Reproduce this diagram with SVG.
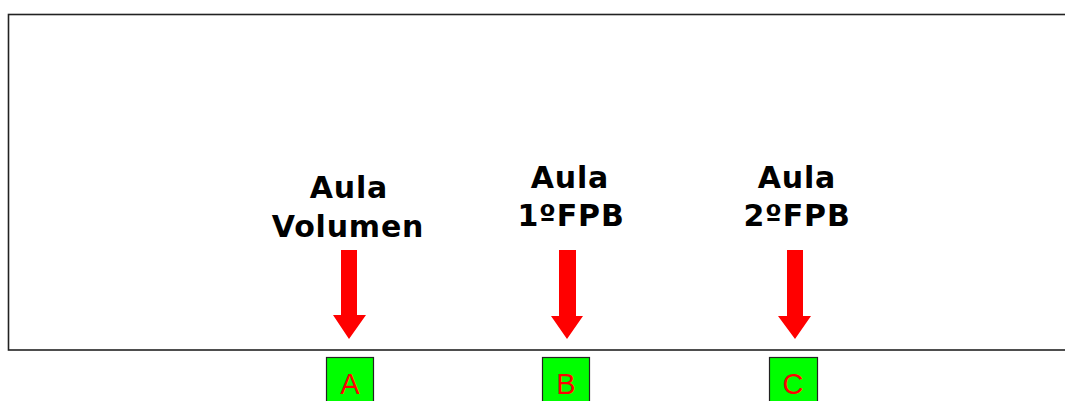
<svg xmlns="http://www.w3.org/2000/svg" width="1065" height="401" viewBox="0 0 1065 401">
<style>
.lbl{font-family:"DejaVu Sans",Verdana,sans-serif;font-weight:bold;font-size:30px;letter-spacing:0.8px;fill:#000;text-anchor:middle}
.box{fill:#00ff00;stroke:#222;stroke-width:1.2}
.let{font-family:"Liberation Sans",Arial,sans-serif;font-size:29px;fill:#ff0000;text-anchor:middle}
.arr{fill:#ff0000}
</style>
<rect x="0" y="0" width="1065" height="401" fill="#fff"/>
<rect id="frame" x="8.5" y="14.5" width="1070" height="335.5" fill="#fff" stroke="#222" stroke-width="1.6"/>
<g id="labels">
<g id="lbl-volumen"><text class="lbl" x="349" y="198">Aula</text><text class="lbl" x="348" y="237">Volumen</text></g>
<g id="lbl-1fpb"><text class="lbl" x="570" y="188">Aula</text><text class="lbl" x="571" y="226">1ºFPB</text></g>
<g id="lbl-2fpb"><text class="lbl" x="797" y="188">Aula</text><text class="lbl" x="797" y="226">2ºFPB</text></g>
</g>
<g id="connectors">
<path class="arr" d="M341 250 H357 V315 H366 L349 339 L333 315 H341 Z"/>
<path class="arr" d="M559 250 H576 V316 H583 L567 339 L551 316 H559 Z"/>
<path class="arr" d="M787 250 H803 V316 H811 L795 339 L778 316 H787 Z"/>
</g>
<g id="node-A"><rect class="box" x="326.5" y="357.5" width="47" height="50"/><text class="let" x="350" y="394">A</text></g>
<g id="node-B"><rect class="box" x="542.5" y="357.5" width="47" height="50"/><text class="let" x="566" y="394">B</text></g>
<g id="node-C"><rect class="box" x="769.5" y="357.5" width="48" height="50"/><text class="let" x="793" y="394">C</text></g>
</svg>
